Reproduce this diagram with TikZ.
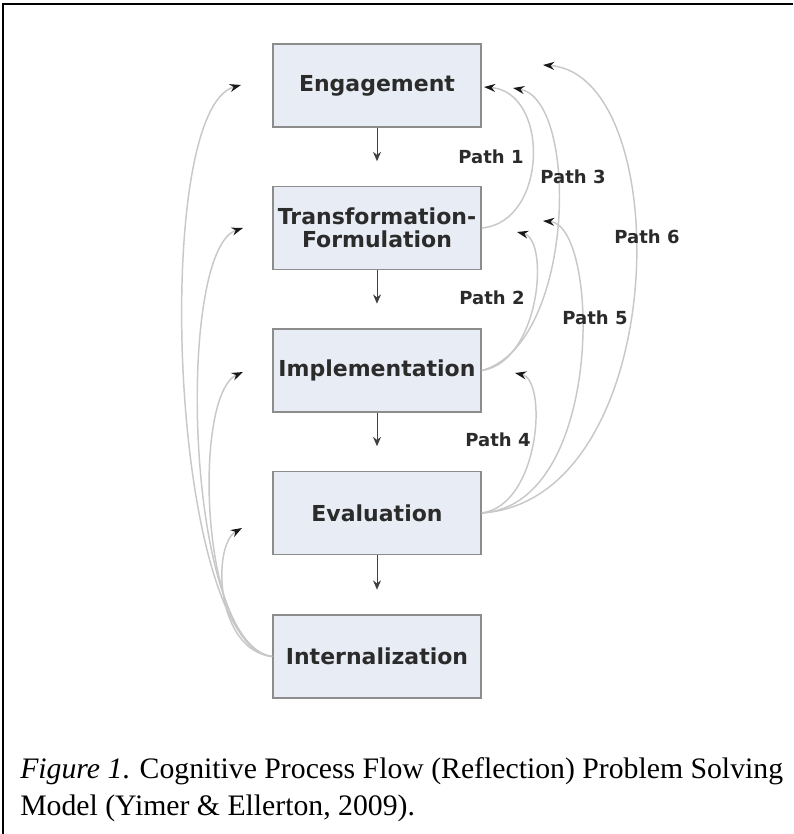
\documentclass[tikz,border=0pt]{standalone}
\usepackage{fontspec}
\setmainfont{Liberation Serif}
\newfontfamily\boxfont{DejaVu Sans}
\usetikzlibrary{arrows.meta}
\definecolor{boxfill}{HTML}{E8ECF4}
\definecolor{boxline}{HTML}{8C8C8C}
\definecolor{curvecol}{HTML}{C8C8C8}
\definecolor{txt}{HTML}{2B2B2B}
\begin{document}
\begin{tikzpicture}[x=0.75pt,y=-0.75pt,
  stagebox/.style={draw=boxline, fill=boxfill, line width=1.2pt, minimum width=156pt, minimum height=62pt, inner sep=0pt, align=center, text=txt, font=\boxfont\bfseries\fontsize{16.5}{17.5}\selectfont},
  downarrow/.style={draw=black!75, line width=0.75pt, shorten >=18.5pt, -{Stealth[length=7pt,width=6pt]}},
  loopline/.style={draw=curvecol, line width=1.1pt, -{Stealth[length=8.5pt,width=6pt,color=black!90]}},
  pathlabel/.style={text=txt, font=\boxfont\bfseries\fontsize{13.5}{15}\selectfont, inner sep=0pt}]
\useasboundingbox (0,0) rectangle (793,834);
\draw[line width=1pt] (3,834) -- (3,4) -- (793,4);

\node[stagebox] (eng) at (377,85.5) {Engagement};
\node[stagebox] (tra) at (377,228) {Transformation-\\Formulation};
\node[stagebox] (imp) at (377,370.5) {Implementation};
\node[stagebox] (eva) at (377,513) {Evaluation};
\node[stagebox] (int) at (377,656.5) {Internalization};

\draw[downarrow] (eng) -- (tra);
\draw[downarrow] (tra) -- (imp);
\draw[downarrow] (imp) -- (eva);
\draw[downarrow] (eva) -- (int);

% right arrow tips
\coordinate (r1) at (484,87);
\coordinate (r3) at (513,88);
\coordinate (r6) at (543,65);
\coordinate (r2) at (517,232);
\coordinate (r5) at (543,221);
\coordinate (r4) at (515,373);
% left arrow tips
\coordinate (l1) at (241,85);
\coordinate (l2) at (243,228);
\coordinate (l3) at (243,372);
\coordinate (l4) at (242,528);

\draw[loopline] (tra.east) .. controls (548,222) and (550,92) .. (r1);
\draw[loopline] (imp.east) .. controls (575,345) and (580,100) .. (r3);
\draw[loopline] (eva.east) .. controls (672,500) and (678,75) .. (r6);
\draw[loopline] (imp.east) .. controls (540,362) and (550,240) .. (r2);
\draw[loopline] (eva.east) .. controls (605,505) and (600,225) .. (r5);
\draw[loopline] (eva.east) .. controls (540,505) and (548,380) .. (r4);

\draw[loopline] (int.west) .. controls (170,645) and (150,110) .. (l1);
\draw[loopline] (int.west) .. controls (185,645) and (175,250) .. (l2);
\draw[loopline] (int.west) .. controls (200,650) and (192,395) .. (l3);
\draw[loopline] (int.west) .. controls (215,650) and (212,545) .. (l4);

\node[pathlabel] (p1) at (491,157) {Path 1};
\node[pathlabel] (p3) at (573,177) {Path 3};
\node[pathlabel] (p6) at (647,237) {Path 6};
\node[pathlabel] (p2) at (492,298) {Path 2};
\node[pathlabel] (p5) at (595,318) {Path 5};
\node[pathlabel] (p4) at (498,440) {Path 4};

\node[anchor=base west, align=left, inner sep=0pt, font=\fontsize{22.3}{27.75}\selectfont] (cap) at (20,815)
  {\textit{Figure 1}. Cognitive Process Flow (Reflection) Problem Solving\\Model (Yimer \& Ellerton, 2009).};
\end{tikzpicture}
\end{document}
